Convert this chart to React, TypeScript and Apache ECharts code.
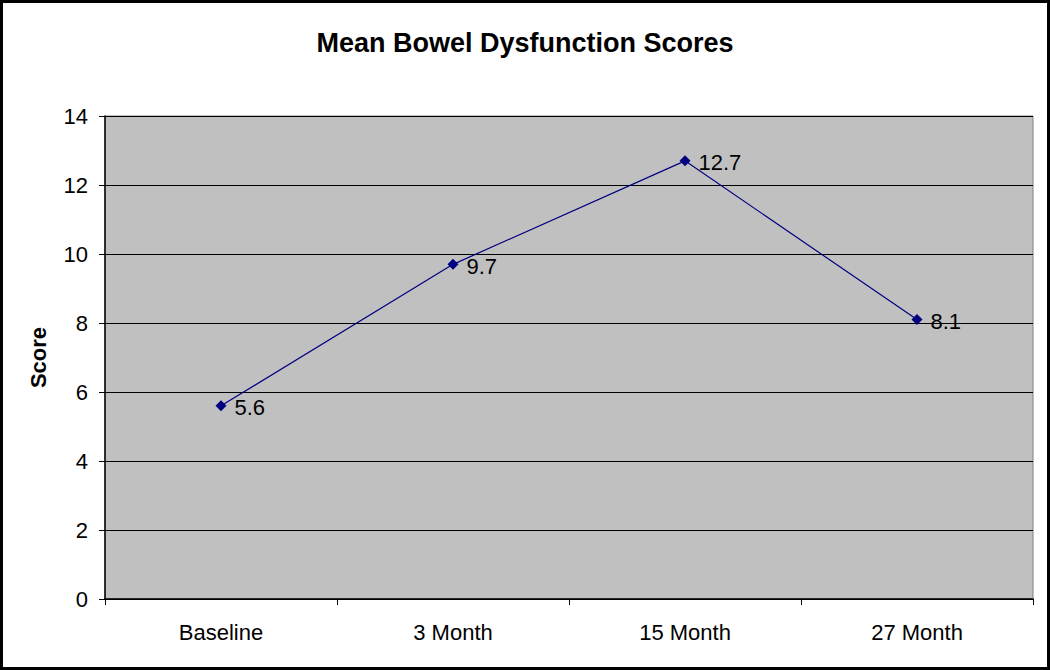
import React, { useEffect, useRef } from "react";
import * as echarts from "echarts";

const categories = ["Baseline", "3 Month", "15 Month", "27 Month"];
const scores = [5.6, 9.7, 12.7, 8.1];
const titleText = "Mean Bowel Dysfunction Scores";
const yName = "Score";

export default function App() {
  const ref = useRef<HTMLDivElement>(null);
  useEffect(() => {
    document.body.style.margin = "0";
    const chart = echarts.init(ref.current!, null, { renderer: "svg" });
    const font = "'Liberation Sans', Arial, sans-serif";
    chart.setOption({
      animation: false,
      backgroundColor: "#ffffff",
      textStyle: { fontFamily: font },
      title: {
        text: titleText,
        left: "center",
        top: 24,
        textStyle: { fontFamily: font, fontSize: 27, fontWeight: "bold", color: "#000" },
      },
      grid: { left: 105, right: 17, top: 116, bottom: 71, show: true, backgroundColor: "#C0C0C0", borderColor: "#808080", borderWidth: 1 },
      xAxis: {
        type: "category",
        data: categories,
        boundaryGap: true,
        axisLine: { lineStyle: { color: "#000", width: 1.5 } },
        axisTick: { show: true, length: 6, lineStyle: { color: "#000" } },
        axisLabel: { fontFamily: font, fontSize: 22, color: "#000", margin: 22 },
      },
      yAxis: {
        type: "value",
        min: 0,
        max: 14,
        interval: 2,
        name: yName,
        nameLocation: "middle",
        nameGap: 56,
        nameTextStyle: { fontFamily: font, fontSize: 22, fontWeight: "bold", color: "#000" },
        axisLine: { show: true, lineStyle: { color: "#000", width: 1.5 } },
        axisTick: { show: true, length: 6, lineStyle: { color: "#000" } },
        axisLabel: { fontFamily: font, fontSize: 22, color: "#000", margin: 17 },
        splitLine: { show: true, lineStyle: { color: "#000", width: 1 } },
      },
      series: [
        {
          type: "line",
          data: scores,
          symbol: "diamond",
          symbolSize: 11,
          itemStyle: { color: "#000080" },
          lineStyle: { color: "#000080", width: 1.2 },
          label: {
            show: true,
            position: "right",
            distance: 8,
            offset: [0, 2],
            fontFamily: font,
            fontSize: 22,
            color: "#000",
          },
        },
      ],
    });
    return () => chart.dispose();
  }, []);
  return (
    <div style={{ position: "relative", width: 1050, height: 670 }}>
      <div ref={ref} style={{ width: 1050, height: 670 }} />
      <div style={{ position: "absolute", left: 0, top: 0, width: 1050, height: 670, border: "3px solid #000", boxSizing: "border-box", pointerEvents: "none" }} />
    </div>
  );
}
